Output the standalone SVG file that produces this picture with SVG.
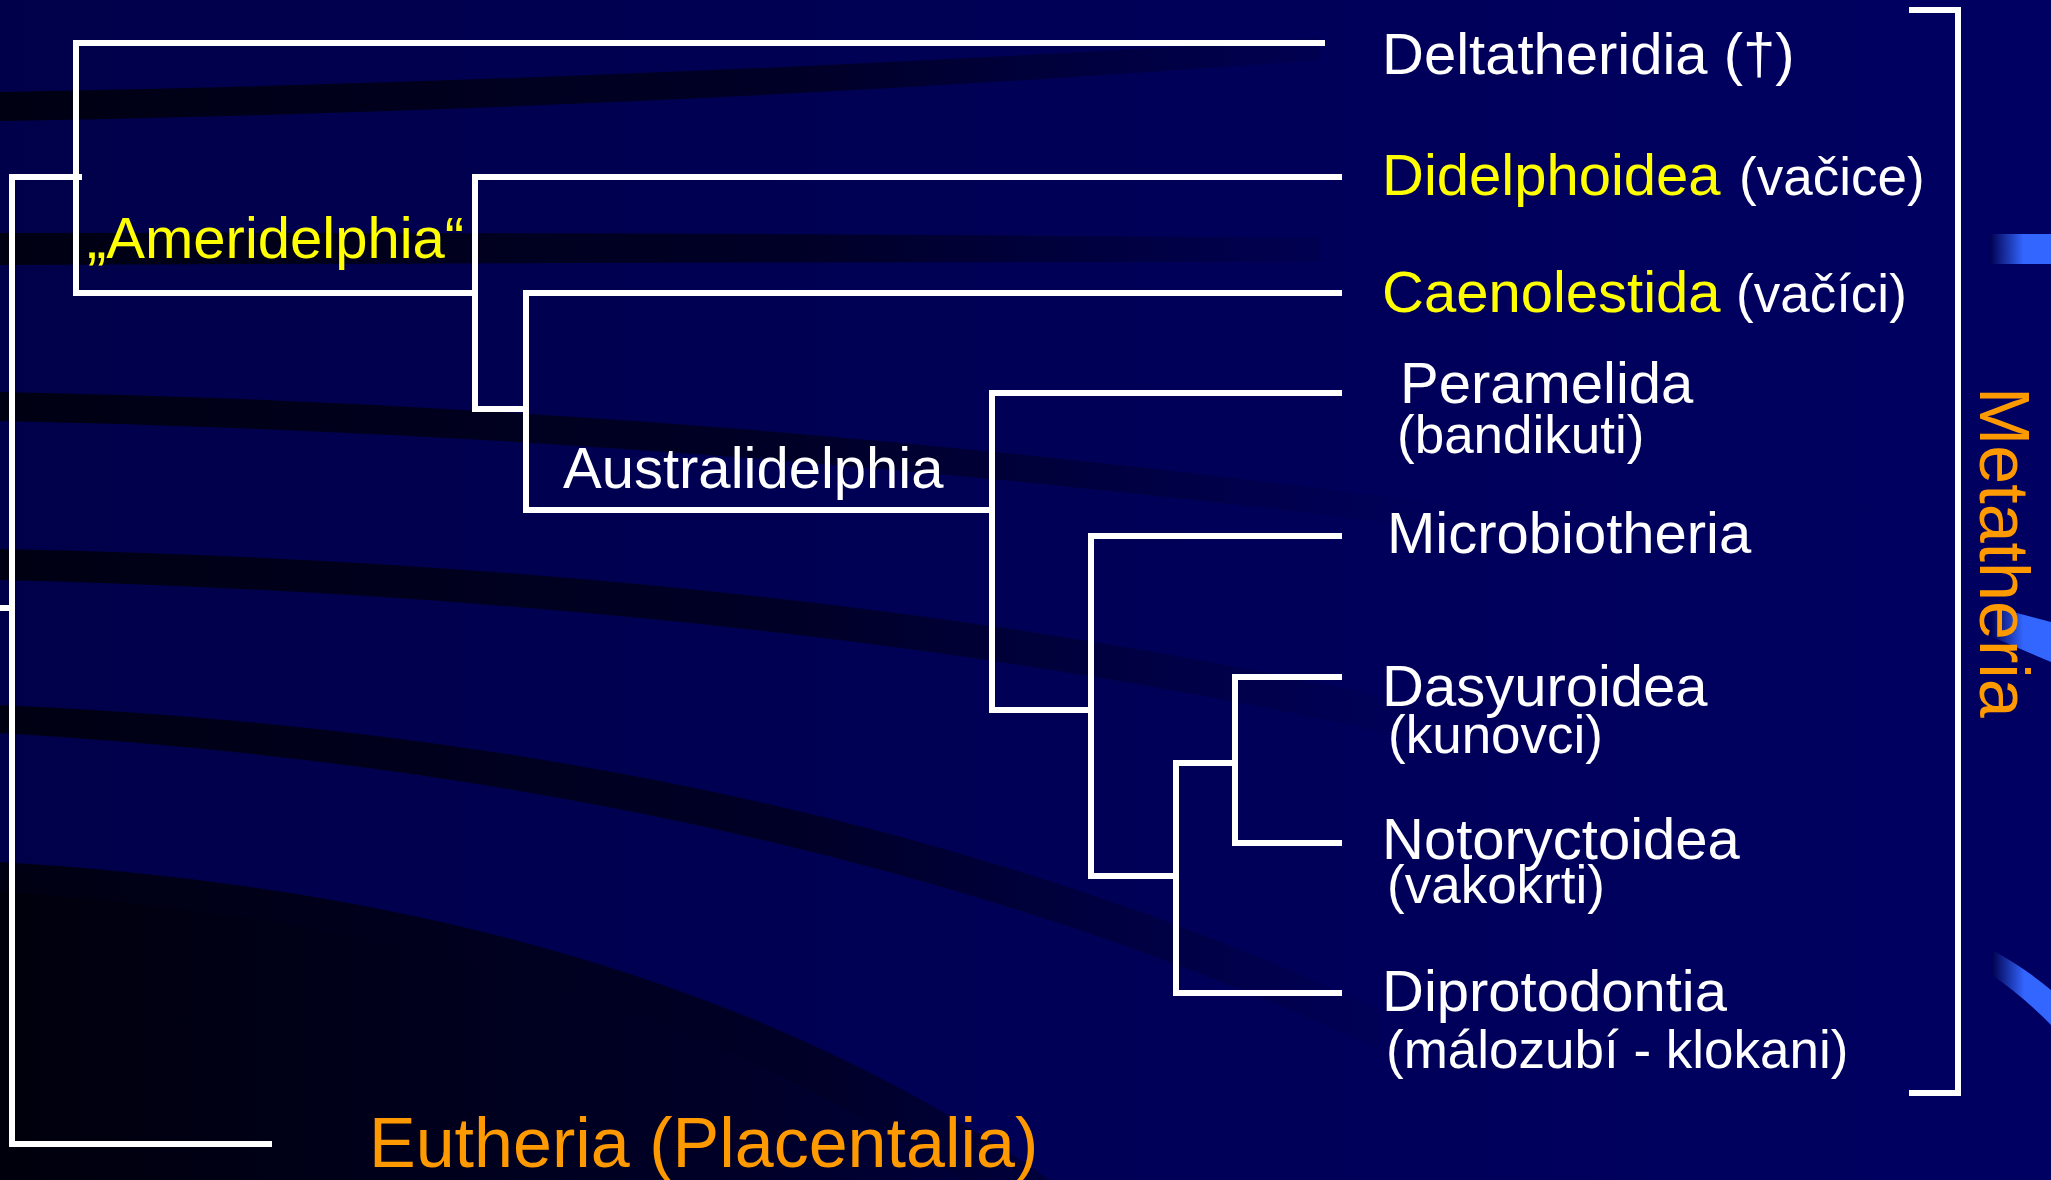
<svg xmlns="http://www.w3.org/2000/svg" width="2051" height="1180" viewBox="0 0 2051 1180">
<defs>
<linearGradient id="bg" x1="0" y1="0" x2="1" y2="0">
<stop offset="0" stop-color="#00004A"/>
<stop offset="1" stop-color="#000062"/>
</linearGradient>
<linearGradient id="band" gradientUnits="userSpaceOnUse" x1="0" y1="0" x2="1450" y2="0">
<stop offset="0" stop-color="#000010" stop-opacity="0.95"/>
<stop offset="0.55" stop-color="#000014" stop-opacity="0.7"/>
<stop offset="1" stop-color="#000020" stop-opacity="0"/>
</linearGradient>
<linearGradient id="dark" gradientUnits="userSpaceOnUse" x1="0" y1="0" x2="1050" y2="0">
<stop offset="0" stop-color="#00000C"/>
<stop offset="0.7" stop-color="#000028"/>
<stop offset="1" stop-color="#000040"/>
</linearGradient>
<linearGradient id="blue" x1="0" y1="0" x2="1" y2="0">
<stop offset="0" stop-color="#000050"/>
<stop offset="0.55" stop-color="#3366FF"/>
<stop offset="1" stop-color="#3366FF"/>
</linearGradient>
<style>
.ln{fill:none;stroke:#FFFFFF;stroke-width:6;stroke-linejoin:miter;stroke-linecap:butt}
.t{font-family:"Liberation Sans",Arial,sans-serif}
.main{font-size:58px}
.sub{font-size:53px}
.w{fill:#FFFFFF}
.y{fill:#FFFF00}
.o{fill:#FF9900}
</style>
</defs>

<g id="background">
<rect x="0" y="0" width="2051" height="1180" fill="url(#bg)"/>
<path d="M0,92 Q650,80 1320,38 L1320,60 Q650,110 0,121 Z" fill="url(#band)"/>
<path d="M0,233 Q700,232 1320,238 L1320,262 Q700,262 0,265 Z" fill="url(#band)"/>
<path d="M0,392 Q700,405 1450,505 L1450,530 Q700,435 0,421 Z" fill="url(#band)"/>
<path d="M0,549 Q800,565 1420,705 L1420,740 Q800,600 0,580 Z" fill="url(#band)"/>
<path d="M0,705 Q800,740 1380,1010 L1380,1050 Q800,780 0,733 Z" fill="url(#band)"/>
<path d="M0,862 Q650,900 1050,1180 L0,1180 Z" fill="url(#band)"/>
<path d="M0,892 Q600,930 960,1180 L0,1180 Z" fill="url(#dark)"/>
<path d="M1990,234 L2051,234 L2051,264 L1990,264 Z" fill="url(#blue)"/>
<path d="M1990,606 L2051,622 L2051,662 L1990,636 Z" fill="url(#blue)"/>
<path d="M1992,950 Q2025,968 2051,990 L2051,1025 Q2025,998 1992,975 Z" fill="url(#blue)"/>
</g>

<g id="connectors">
<path class="ln" d="M0,608 H12"/>
<path class="ln" d="M82,177 H12 V1144 H272"/>
<path class="ln" d="M1325,43 H76 V293 H475"/>
<path class="ln" d="M1342,177 H475 V409 H526"/>
<path class="ln" d="M1342,293 H526 V510 H992"/>
<path class="ln" d="M1342,393 H992 V710 H1091"/>
<path class="ln" d="M1342,536 H1091 V876 H1176"/>
<path class="ln" d="M1235,763 H1176 V993 H1342"/>
<path class="ln" d="M1342,677 H1235 V843 H1342"/>
<path class="ln" d="M1909,10 H1958 V1093 H1909"/>
</g>

<g id="node-deltatheridia"><text class="t main w" x="1382" y="74">Deltatheridia (†)</text></g>
<g id="node-didelphoidea"><text class="t y" x="1382" y="195"><tspan class="main">Didelphoidea</tspan><tspan class="sub w" x="1739">(vačice)</tspan></text></g>
<g id="node-caenolestida"><text class="t y" x="1382" y="312"><tspan class="main">Caenolestida</tspan><tspan class="sub w" x="1736">(vačíci)</tspan></text></g>
<g id="node-peramelida"><text class="t main w" x="1400" y="403">Peramelida</text><text class="t sub w" x="1397" y="453">(bandikuti)</text></g>
<g id="node-microbiotheria"><text class="t main w" x="1387" y="553">Microbiotheria</text></g>
<g id="node-dasyuroidea"><text class="t main w" x="1382" y="706">Dasyuroidea</text><text class="t sub w" x="1388" y="753">(kunovci)</text></g>
<g id="node-notoryctoidea"><text class="t main w" x="1382" y="859">Notoryctoidea</text><text class="t sub w" x="1387" y="903">(vakokrti)</text></g>
<g id="node-diprotodontia"><text class="t main w" x="1382" y="1011">Diprotodontia</text><text class="t sub w" x="1386" y="1068">(málozubí - klokani)</text></g>
<g id="node-ameridelphia"><text class="t main y" x="87" y="258">„Ameridelphia“</text></g>
<g id="node-australidelphia"><text class="t main w" x="563" y="488">Australidelphia</text></g>
<g id="node-eutheria"><text class="t o" x="369" y="1167" font-size="70">Eutheria (Placentalia)</text></g>
<g id="node-metatheria"><text class="t o" font-size="70" transform="translate(1980,387) rotate(90)">Metatheria</text></g>
</svg>
